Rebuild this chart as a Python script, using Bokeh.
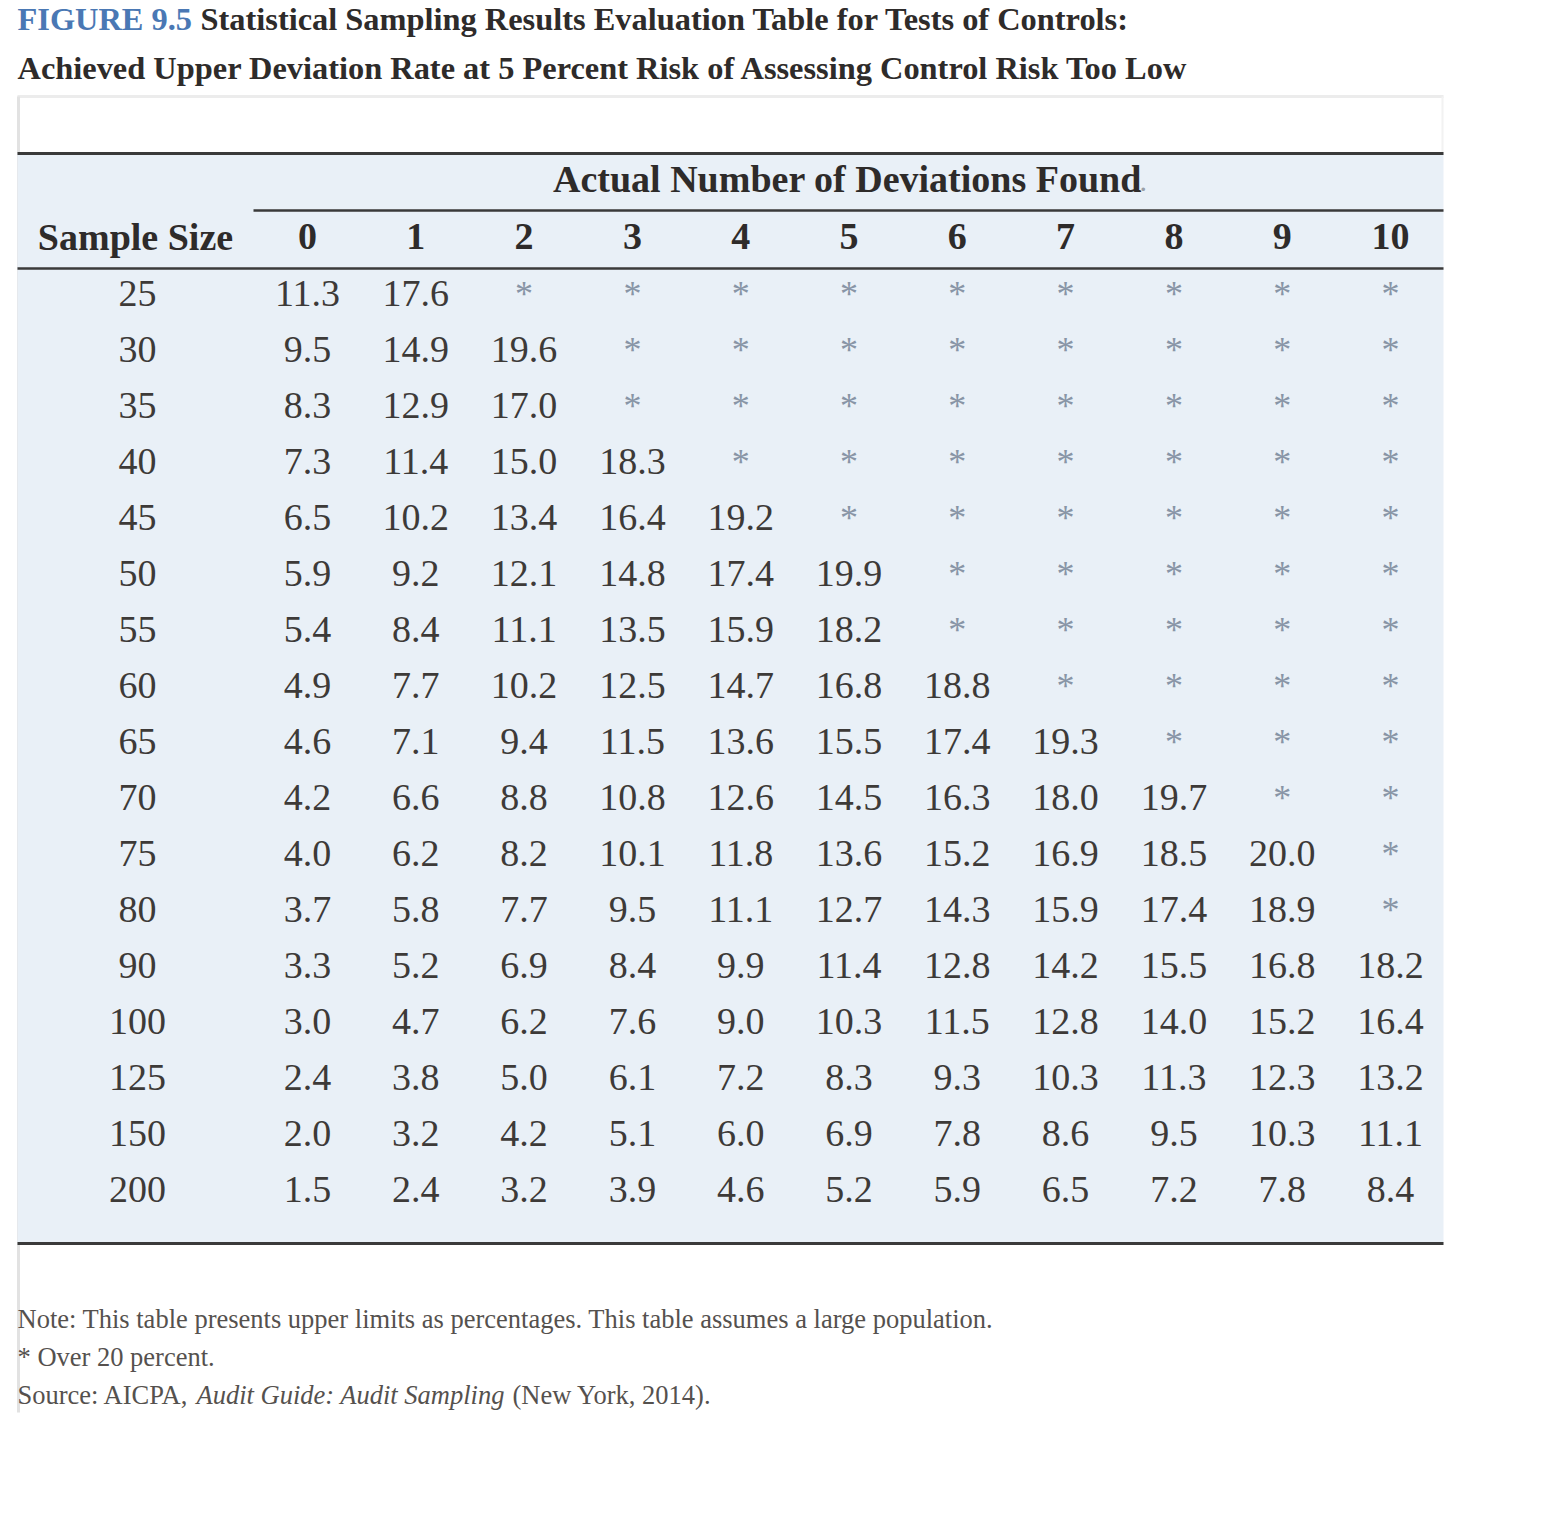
from bokeh.plotting import figure
from bokeh.models import Range1d, ColumnDataSource
from bokeh.core.properties import value
from bokeh.embed import file_html
from bokeh.resources import INLINE

# ---------------- data ----------------
title_fig = "FIGURE 9.5"
title_rest = "Statistical Sampling Results Evaluation Table for Tests of Controls:"
title_line2 = "Achieved Upper Deviation Rate at 5 Percent Risk of Assessing Control Risk Too Low"
group_header = "Actual Number of Deviations Found"
row_header = "Sample Size"
note_1 = "Note: This table presents upper limits as percentages. This table assumes a large population."
note_2 = "* Over 20 percent."
note_3a = "Source: AICPA, "
note_3b = "Audit Guide: Audit Sampling"
note_3c = "(New York, 2014)."

deviations = [0, 1, 2, 3, 4, 5, 6, 7, 8, 9, 10]
sample_sizes = [25, 30, 35, 40, 45, 50, 55, 60, 65, 70, 75, 80, 90, 100, 125, 150, 200]

# None = "*" (over 20 percent)
n25 = [11.3, 17.6, None, None, None, None, None, None, None, None, None]
n30 = [9.5, 14.9, 19.6, None, None, None, None, None, None, None, None]
n35 = [8.3, 12.9, 17.0, None, None, None, None, None, None, None, None]
n40 = [7.3, 11.4, 15.0, 18.3, None, None, None, None, None, None, None]
n45 = [6.5, 10.2, 13.4, 16.4, 19.2, None, None, None, None, None, None]
n50 = [5.9, 9.2, 12.1, 14.8, 17.4, 19.9, None, None, None, None, None]
n55 = [5.4, 8.4, 11.1, 13.5, 15.9, 18.2, None, None, None, None, None]
n60 = [4.9, 7.7, 10.2, 12.5, 14.7, 16.8, 18.8, None, None, None, None]
n65 = [4.6, 7.1, 9.4, 11.5, 13.6, 15.5, 17.4, 19.3, None, None, None]
n70 = [4.2, 6.6, 8.8, 10.8, 12.6, 14.5, 16.3, 18.0, 19.7, None, None]
n75 = [4.0, 6.2, 8.2, 10.1, 11.8, 13.6, 15.2, 16.9, 18.5, 20.0, None]
n80 = [3.7, 5.8, 7.7, 9.5, 11.1, 12.7, 14.3, 15.9, 17.4, 18.9, None]
n90 = [3.3, 5.2, 6.9, 8.4, 9.9, 11.4, 12.8, 14.2, 15.5, 16.8, 18.2]
n100 = [3.0, 4.7, 6.2, 7.6, 9.0, 10.3, 11.5, 12.8, 14.0, 15.2, 16.4]
n125 = [2.4, 3.8, 5.0, 6.1, 7.2, 8.3, 9.3, 10.3, 11.3, 12.3, 13.2]
n150 = [2.0, 3.2, 4.2, 5.1, 6.0, 6.9, 7.8, 8.6, 9.5, 10.3, 11.1]
n200 = [1.5, 2.4, 3.2, 3.9, 4.6, 5.2, 5.9, 6.5, 7.2, 7.8, 8.4]

rows = [n25, n30, n35, n40, n45, n50, n55, n60, n65, n70, n75, n80, n90, n100, n125, n150, n200]

# ---------------- layout ----------------
W, H = 1548, 1440
COL0_PX, COL_STEP = 307.0, 108.3   # x of column "0" and column spacing (px)
ROW0_PX, ROW_STEP = 293.0, 56.0    # y of first data row and row spacing (px)


def dx(px):
    return (px - COL0_PX) / COL_STEP


def dy(py):
    return (py - ROW0_PX) / ROW_STEP


SERIF = value("Liberation Serif")
DARK = "#2e2b2a"
NUM = "#3d3a38"
STAR = "#8895a6"
NOTE = "#55514e"
TITLE_BLUE = "#4a78b4"
BAND = "#e9f0f7"
RULE = "#3a3a3a"

p = figure(width=W, height=H, output_backend="svg", toolbar_location=None,
           x_range=Range1d(dx(0), dx(W)), y_range=Range1d(dy(H), dy(0)),
           min_border=0, background_fill_color="white", border_fill_color="white")
p.axis.visible = False
p.grid.visible = False
p.outline_line_color = None

L, R = dx(17), dx(1443)

# faint frame / shadow of the table box
p.quad(left=[L], right=[R], top=[dy(95)], bottom=[dy(153)], fill_color="white",
       line_color=None)
p.segment(x0=[L], y0=[dy(96)], x1=[R], y1=[dy(96)], line_color="#ececec", line_width=3)
p.segment(x0=[dx(18)], y0=[dy(96)], x1=[dx(18)], y1=[dy(1412)], line_color="#e2e2e2", line_width=3)
p.segment(x0=[dx(1442)], y0=[dy(96)], x1=[dx(1442)], y1=[dy(153)], line_color="#f2f2f2", line_width=2)

# blue band
p.quad(left=[L], right=[R], top=[dy(153)], bottom=[dy(1243)], fill_color=BAND, line_color=None)

# rules
p.segment(x0=[L, dx(253), L, L], y0=[dy(153), dy(210), dy(268), dy(1243)],
          x1=[R, R, R, R], y1=[dy(153), dy(210), dy(268), dy(1243)],
          line_color=RULE, line_width=[3, 2.5, 2.5, 3])

# titles
TITLE_SIZE = "32.4px"
p.text(x=[dx(17)], y=[dy(18)], text=[title_fig], text_font=SERIF, text_font_style="bold",
       text_font_size=TITLE_SIZE, text_color=TITLE_BLUE, text_align="left", text_baseline="middle")
p.text(x=[dx(200)], y=[dy(18)], text=[title_rest], text_font=SERIF, text_font_style="bold",
       text_font_size=TITLE_SIZE, text_color=DARK, text_align="left", text_baseline="middle")
p.text(x=[dx(17)], y=[dy(67)], text=[title_line2], text_font=SERIF, text_font_style="bold",
       text_font_size=TITLE_SIZE, text_color=DARK, text_align="left", text_baseline="middle")

# group header
p.text(x=[(dx(555) + dx(1139)) / 2], y=[dy(178)], text=[group_header], text_font=SERIF,
       text_font_style="bold", text_font_size="38px", text_color=DARK,
       text_align="center", text_baseline="middle")
p.text(x=[dx(1139)], y=[dy(181)], text=["."], text_font=SERIF, text_font_size="30px",
       text_color="#9aa0a8", text_align="left", text_baseline="middle")

# column headers
p.text(x=[dx(135)], y=[dy(236)], text=[row_header], text_font=SERIF, text_font_style="bold",
       text_font_size="38px", text_color=DARK, text_align="center", text_baseline="middle")
p.text(x=deviations, y=[dy(236)] * len(deviations), text=[str(d) for d in deviations],
       text_font=SERIF, text_font_style="bold", text_font_size="38px", text_color=DARK,
       text_align="center", text_baseline="middle")

# body
SS_X = dx(137)
ri = list(range(len(sample_sizes)))
p.text(x=[SS_X] * len(ri), y=ri, text=[str(s) for s in sample_sizes],
       text_font=SERIF, text_font_size="38px", text_color=NUM, text_align="center",
       text_baseline="middle")

num_x, num_y, num_t, star_x, star_y = [], [], [], [], []
for r, vals in enumerate(rows):
    for c, v in zip(deviations, vals):
        if v is None:
            star_x.append(c)
            star_y.append(r)
        else:
            num_x.append(c)
            num_y.append(r)
            num_t.append(f"{v:.1f}")

p.text(source=ColumnDataSource(dict(x=num_x, y=num_y, t=num_t)), x="x", y="y", text="t",
       text_font=SERIF, text_font_size="38px", text_color=NUM, text_align="center",
       text_baseline="middle")
p.text(x=star_x, y=star_y, text=["*"] * len(star_x),
       text_font=SERIF, text_font_size="36px", text_color=STAR, text_align="center",
       text_baseline="middle")

# notes
NOTE_SIZE = "26.5px"
p.text(x=[dx(17)], y=[dy(1318)], text=[note_1], text_font=SERIF, text_font_size=NOTE_SIZE,
       text_color=NOTE, text_align="left", text_baseline="middle")
p.text(x=[dx(17)], y=[dy(1356)], text=[note_2], text_font=SERIF, text_font_size=NOTE_SIZE,
       text_color=NOTE, text_align="left", text_baseline="middle")
p.text(x=[dx(17)], y=[dy(1394)], text=[note_3a], text_font=SERIF, text_font_size=NOTE_SIZE,
       text_color=NOTE, text_align="left", text_baseline="middle")
p.text(x=[dx(196)], y=[dy(1394)], text=[note_3b], text_font=SERIF, text_font_style="italic",
       text_font_size=NOTE_SIZE, text_color=NOTE, text_align="left", text_baseline="middle")
p.text(x=[dx(512)], y=[dy(1394)], text=[note_3c], text_font=SERIF, text_font_size=NOTE_SIZE,
       text_color=NOTE, text_align="left", text_baseline="middle")

open("out.html", "w").write(file_html(p, INLINE))
